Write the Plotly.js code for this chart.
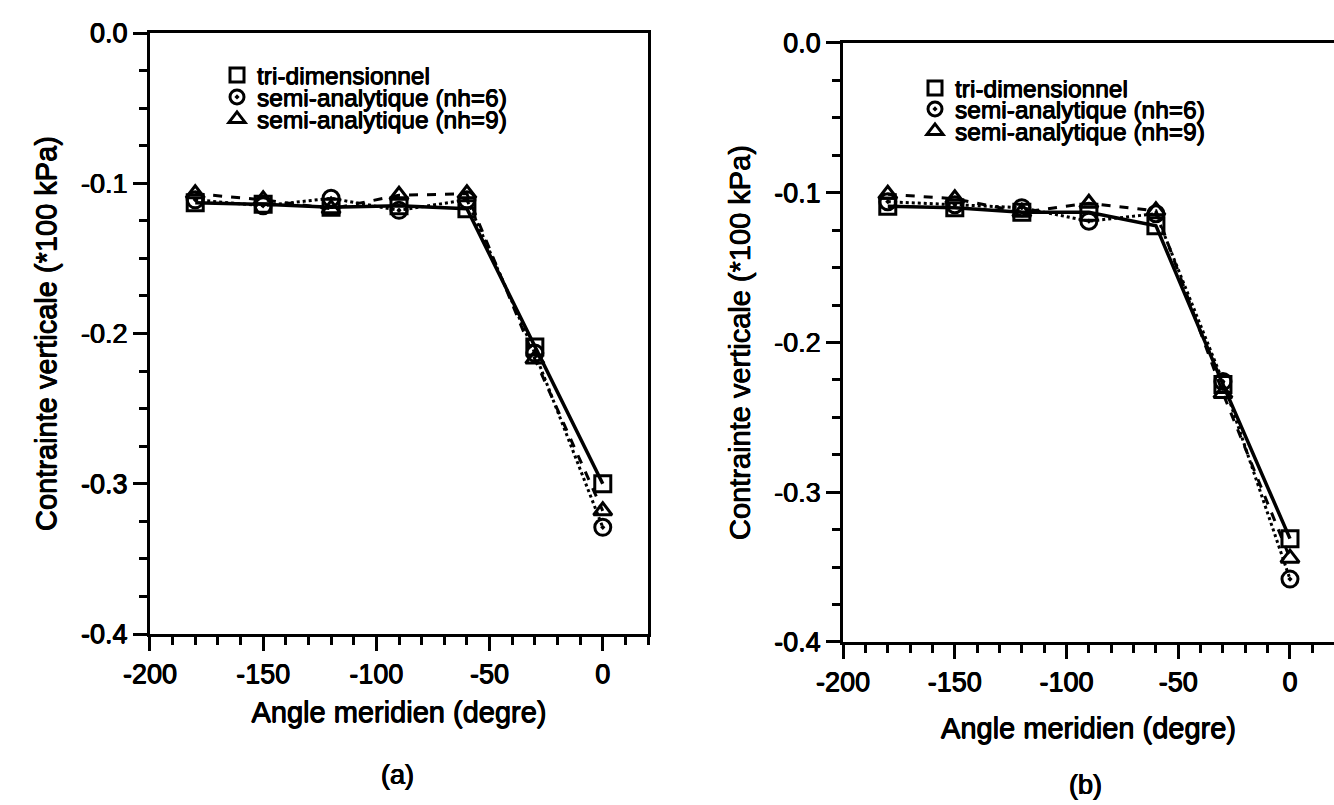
<!DOCTYPE html>
<html>
<head>
<meta charset="utf-8">
<script src="https://cdn.plot.ly/plotly-3.0.1.min.js"></script>
<style>html,body{margin:0;padding:0;background:#fff;}#chart{width:1334px;height:805px;}</style>
</head>
<body>
<div id="chart"></div>
<script>
// ---- data ----
const angles = [-180, -150, -120, -90, -60, -30, 0];

// panel (a)
const triA = [-0.113, -0.114, -0.116, -0.115, -0.117, -0.209, -0.300];
const nh6A = [-0.111, -0.115, -0.110, -0.118, -0.111, -0.213, -0.329];
const nh9A = [-0.107, -0.111, -0.117, -0.108, -0.107, -0.217, -0.318];

// panel (b)
const triB = [-0.109, -0.110, -0.113, -0.113, -0.122, -0.228, -0.331];
const nh6B = [-0.106, -0.108, -0.110, -0.119, -0.114, -0.226, -0.358];
const nh9B = [-0.101, -0.104, -0.113, -0.107, -0.112, -0.234, -0.344];

const seriesNames = ['tri-dimensionnel', 'semi-analytique (nh=6)', 'semi-analytique (nh=9)'];
const xTickVals = [-200, -150, -100, -50, 0];
const xTickText = ['-200', '-150', '-100', '-50', '0'];
const yTickVals = [0, -0.1, -0.2, -0.3, -0.4];
const yTickText = ['0.0', '-0.1', '-0.2', '-0.3', '-0.4'];
const xTitle = 'Angle meridien (degre)';
const yTitle = 'Contrainte verticale (*100 kPa)';
const panelLabels = ['(a)', '(b)'];

// ---- styles ----
const FONT = 'Liberation Sans, Arial, Helvetica, sans-serif';
const HEAVY = '0.45px 0 0 #000, -0.45px 0 0 #000, 0 0.35px 0 #000';
const symbols = ['square-open', 'circle-open-dot', 'triangle-up-open'];
const dashes = ['solid', 'dot', 'dash'];
const lineW = [3.5, 3, 3];

function f(size) { return {family: FONT, size: size, color: '#000', shadow: HEAVY}; }

function dataTrace(y, i, xa, ya) {
  return {
    x: angles, y: y, xaxis: xa, yaxis: ya, type: 'scatter', mode: 'lines+markers',
    showlegend: false, cliponaxis: false,
    line: {color: '#000', width: lineW[i], dash: dashes[i]},
    marker: {symbol: symbols[i], size: 16, color: '#000', line: {color: '#000', width: 3}}
  };
}
function legendTrace(i, legendId) {
  return {
    x: [null], y: [null], type: 'scatter', mode: 'markers', name: seriesNames[i],
    legend: legendId, showlegend: true, hoverinfo: 'skip',
    marker: {symbol: symbols[i], size: 14, color: '#000', line: {color: '#000', width: 3}}
  };
}

const traces = [
  dataTrace(triA, 0, 'x', 'y'), dataTrace(nh6A, 1, 'x', 'y'), dataTrace(nh9A, 2, 'x', 'y'),
  dataTrace(triB, 0, 'x2', 'y2'), dataTrace(nh6B, 1, 'x2', 'y2'), dataTrace(nh9B, 2, 'x2', 'y2'),
  legendTrace(0, 'legend'), legendTrace(1, 'legend2'), legendTrace(2, 'legend3'),
  legendTrace(0, 'legend4'), legendTrace(1, 'legend5'), legendTrace(2, 'legend6')
];

function xAxis(domain, range, anchor, standoff) {
  return {
    domain: domain, range: range, anchor: anchor,
    showline: true, linecolor: '#000', linewidth: 3, mirror: true,
    showgrid: false, zeroline: false,
    tickmode: 'array', tickvals: xTickVals, ticktext: xTickText,
    ticks: 'outside', ticklen: 14, tickwidth: 3, tickcolor: '#000',
    tickfont: f(27),
    minor: {ticks: 'outside', tickmode: 'linear', tick0: 0, dtick: 10, ticklen: 8, tickwidth: 3, tickcolor: '#000', showgrid: false},
    title: {text: xTitle, font: f(29), standoff: standoff}
  };
}
function yAxis(domain, anchor, mirror) {
  return {
    domain: domain, range: [-0.4, 0], anchor: anchor,
    showline: true, linecolor: '#000', linewidth: 3, mirror: mirror,
    showgrid: false, zeroline: false,
    tickmode: 'array', tickvals: yTickVals, ticktext: yTickText,
    ticks: 'outside', ticklen: 14, tickwidth: 3, tickcolor: '#000',
    tickfont: f(27),
    minor: {ticks: 'outside', tickmode: 'linear', tick0: 0, dtick: 0.025, ticklen: 8, tickwidth: 3, tickcolor: '#000', showgrid: false},
    title: {text: yTitle, font: f(29), standoff: 16}
  };
}
function legendBox(xPx, yPx) {
  return {
    x: xPx / 1334, y: 1 - yPx / 805, xanchor: 'left', yanchor: 'middle',
    bgcolor: 'rgba(0,0,0,0)', borderwidth: 0,
    font: f(24.5), itemwidth: 30
  };
}

const layout = {
  width: 1334, height: 805,
  margin: {l: 0, r: 0, t: 0, b: 0},
  paper_bgcolor: '#fff', plot_bgcolor: '#fff',
  font: {family: FONT, color: '#000'},
  xaxis: xAxis([0.1124, 0.4858], [-200, 20], 'y', 14),
  yaxis: yAxis([0.2124, 0.959], 'x', true),
  xaxis2: xAxis([0.632, 1], [-200, 19.7], 'y2', 22),
  yaxis2: yAxis([0.2025, 0.9466], 'x2', false),
  legend: legendBox(217, 75),
  legend2: legendBox(217, 97),
  legend3: legendBox(217, 119),
  legend4: legendBox(915, 88),
  legend5: legendBox(915, 109),
  legend6: legendBox(915, 131),
  annotations: [
    {text: panelLabels[0], xref: 'paper', yref: 'paper', x: 398 / 1334, y: 1 - 775 / 805, showarrow: false,
     font: f(27), xanchor: 'center', yanchor: 'middle'},
    {text: panelLabels[1], xref: 'paper', yref: 'paper', x: 1085 / 1334, y: 1 - 785 / 805, showarrow: false,
     font: f(27), xanchor: 'center', yanchor: 'middle'}
  ]
};

Plotly.newPlot('chart', traces, layout, {displayModeBar: false, staticPlot: true});
</script>
</body>
</html>
